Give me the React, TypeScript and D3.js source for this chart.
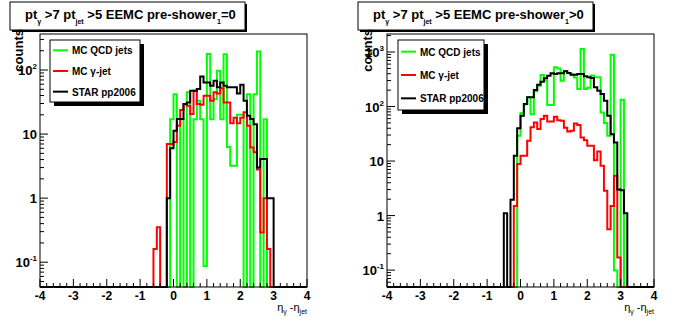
import React from 'react';
import * as d3 from 'd3';

// ---------- data ----------
const BIN_W = 0.1;
const X_MIN = -4;
const X_MAX = 4;
const xTicks = [-4, -3, -2, -1, 0, 1, 2, 3, 4];
const leftYTicks = [0.1, 1, 10, 100];
const rightYTicks = [0.1, 1, 10, 100, 1000];
const legendLabels = ['MC QCD jets', 'MC \u03b3-jet', 'STAR pp2006'];
const seriesColors = ['#00ff00', '#ff0000', '#000000'];

// left panel: pre-shower1 = 0
const leftQcdStart = -0.1;
const leftQcd = [17, 42, 0, 17, 0, 45, 0, 17, 33, 17, 0.087, 178, 17, 35, 97, 17, 176, 6.3, 3.2, 3.2, 20, 20, 0, 42, 0, 42, 195, 0, 17, 0];
const leftGammaStart = -0.6;
const leftGamma = [0.16, 0.35, 0, 0, 7, 7, 7.5, 13.5, 23.7, 29.4, 27.7, 20.5, 47.5, 29.4, 28.7, 39.7, 39.7, 33, 45, 43, 52, 31, 31, 14.7, 18, 14.7, 18, 22, 13.5, 6.2, 5.2, 2.8, 0.29, 1.0, 0.16];
const leftStarStart = -0.2;
const leftStar = [1.0, 6.0, 11.3, 17.2, 17.2, 29.4, 31, 47.5, 47.5, 50.5, 79, 64, 64, 57, 68, 54, 64, 57, 54, 54, 54, 43, 59, 33, 19.3, 17.2, 14.3, 3.0, 4.1, 4.1, 1.0, 1.0];

// right panel: pre-shower1 > 0
const rightQcdStart = -0.1;
const rightQcd = [29, 76, 110, 150, 72, 190, 240, 380, 300, 107, 107, 525, 500, 297, 450, 410, 390, 340, 210, 1135, 210, 220, 370, 343, 343, 78, 50, 29, 890, 0.098, 0, 133];
const rightGammaStart = -0.2;
const rightGamma = [1.5, 8.8, 12.5, 12.5, 23.6, 41.5, 51, 38.6, 59, 68, 53, 53, 65, 56, 55, 41, 35, 36, 49, 46, 27, 24, 19, 19, 10.4, 15, 8.2, 2.85, 0.56, 1.5, 5.4, 0.17];
const rightStarStart = -0.5;
const rightStar = [1.1, 0, 1.95, 12.5, 40, 68, 111, 148, 148, 201, 251, 285, 329, 368, 406, 395, 406, 406, 442, 412, 384, 384, 395, 395, 358, 343, 333, 225, 195, 170, 128, 68, 31, 22, 3.0, 2.9, 1.1];

// ---------- helpers ----------
const FONT = '"Liberation Sans", Arial, Helvetica, sans-serif';
const NBINS = Math.round((X_MAX - X_MIN) / BIN_W);

function fullBins(start: number, values: number[]) {
  const out: { lo: number; hi: number; v: number }[] = [];
  for (let i = 0; i < NBINS; i++) {
    const lo = X_MIN + i * BIN_W;
    const k = Math.round((lo - start) / BIN_W);
    const v = k >= 0 && k < values.length ? values[k] : 0;
    out.push({ lo, hi: lo + BIN_W, v });
  }
  return out;
}

function tickLabel(v: number) {
  const e = Math.round(Math.log10(v));
  if (e === 0) return { base: '1', sup: '' };
  if (e === 1) return { base: '10', sup: '' };
  return { base: '10', sup: String(e) };
}

type PanelCfg = {
  x0: number; x1: number; y0: number; y1: number;
  yDomain: [number, number];
  yTicks: number[];
  series: { start: number; values: number[] }[];
  titleBox: [number, number, number, number];
  titleEnd: string;
  legendBox: [number, number, number, number];
  countsX: number;
  id: string;
};

function Panel({ p }: { p: PanelCfg }) {
  const xs = d3.scaleLinear().domain([X_MIN, X_MAX]).range([p.x0, p.x1]);
  const ys = d3.scaleLog().domain(p.yDomain).range([p.y1, p.y0]);
  const yOf = (v: number) => (v > p.yDomain[0] ? ys(v) : p.y1);
  const line = d3.line<[number, number]>();

  const paths = p.series.map((s) => {
    const bins = fullBins(s.start, s.values);
    const pts: [number, number][] = [[xs(X_MIN), p.y1]];
    bins.forEach((b) => {
      pts.push([xs(b.lo), yOf(b.v)]);
      pts.push([xs(b.hi), yOf(b.v)]);
    });
    pts.push([xs(X_MAX), p.y1]);
    return line(pts) as string;
  });

  const xMinor: number[] = [];
  for (let v = X_MIN; v <= X_MAX + 1e-9; v += 0.2) {
    const r = Math.round(v * 10) / 10;
    if (Math.abs(r - Math.round(r)) > 1e-6) xMinor.push(r);
  }
  const yMinor: number[] = [];
  const dLo = Math.floor(Math.log10(p.yDomain[0]));
  const dHi = Math.ceil(Math.log10(p.yDomain[1]));
  for (let d = dLo; d <= dHi; d++) {
    for (let m = 2; m <= 9; m++) {
      const v = m * Math.pow(10, d);
      if (v >= p.yDomain[0] && v <= p.yDomain[1]) yMinor.push(v);
    }
  }

  const [tx, ty, tw, th] = p.titleBox;
  const [lx, ly, lw, lh] = p.legendBox;
  const rowH = lh / 3;

  return (
    <g>
      {/* title box */}
      <rect x={tx + 2} y={ty + 2} width={tw} height={th} fill="#000" />
      <rect x={tx} y={ty} width={tw} height={th} fill="#fff" stroke="#000" strokeWidth={1} />
      <text x={tx + 15} y={ty + 17} fontFamily={FONT} fontWeight="bold" fontSize={13} fill="#000">
        <tspan>pt</tspan>
        <tspan fontSize={7} dy={5}>{'\u03b3'}</tspan>
        <tspan dy={-5}>{' >7  pt'}</tspan>
        <tspan fontSize={7} dy={5}>jet</tspan>
        <tspan dy={-5}>{' >5  EEMC pre-shower'}</tspan>
        <tspan fontSize={7} dy={5}>1</tspan>
        <tspan dy={-5}>{p.titleEnd}</tspan>
      </text>

      <defs>
        <clipPath id={'clip-' + p.id}>
          <rect x={p.x0} y={p.y0} width={p.x1 - p.x0} height={p.y1 - p.y0 + 2} />
        </clipPath>
      </defs>

      <g clipPath={`url(#clip-${p.id})`}>
        {paths.map((d, i) => (
          <path key={i} d={d} fill="none" stroke={seriesColors[i]} strokeWidth={2} />
        ))}
      </g>

      {/* frame */}
      <rect x={p.x0} y={p.y0} width={p.x1 - p.x0} height={p.y1 - p.y0} fill="none" stroke="#000" strokeWidth={1} />

      {/* x ticks */}
      {xTicks.map((t) => (
        <g key={'xt' + t}>
          <line x1={xs(t)} x2={xs(t)} y1={p.y1} y2={p.y1 - 8} stroke="#000" />
          <text x={xs(t)} y={p.y1 + 13} textAnchor="middle" fontFamily={FONT} fontWeight="bold" fontSize={12}>
            {String(t)}
          </text>
        </g>
      ))}
      {xMinor.map((t) => (
        <line key={'xm' + t} x1={xs(t)} x2={xs(t)} y1={p.y1} y2={p.y1 - 4} stroke="#000" />
      ))}

      {/* y ticks */}
      {p.yTicks.map((t) => {
        const lab = tickLabel(t);
        return (
          <g key={'yt' + t}>
            <line x1={p.x0} x2={p.x0 + 8} y1={ys(t)} y2={ys(t)} stroke="#000" />
            <text x={p.x0 - 3} y={ys(t) + 5} textAnchor="end" fontFamily={FONT} fontWeight="bold" fontSize={13}>
              {lab.base}
              {lab.sup ? (
                <tspan fontSize={8} dy={-6}>{lab.sup}</tspan>
              ) : null}
            </text>
          </g>
        );
      })}
      {yMinor.map((t) => (
        <line key={'ym' + t} x1={p.x0} x2={p.x0 + 4} y1={ys(t)} y2={ys(t)} stroke="#000" />
      ))}

      {/* axis titles */}
      <text
        transform={`translate(${p.countsX},${p.y0 - 5}) rotate(-90)`}
        textAnchor="end"
        fontFamily={FONT}
        fontWeight="bold"
        fontSize={13}
      >
        counts
      </text>
      <text x={p.x1} y={p.y1 + 24} textAnchor="end" fontFamily={FONT} fontSize={11}>
        <tspan>{'\u03b7'}</tspan>
        <tspan fontSize={7} dy={3}>{'\u03b3'}</tspan>
        <tspan dy={-3}>{' -\u03b7'}</tspan>
        <tspan fontSize={7} dy={3}>jet</tspan>
      </text>

      {/* legend */}
      <rect x={lx + 4} y={ly + 4} width={lw} height={lh} fill="#000" />
      <rect x={lx} y={ly} width={lw} height={lh} fill="#fff" stroke="#000" strokeWidth={1} />
      {legendLabels.map((lab, i) => {
        const cy = ly + rowH * (i + 0.5);
        return (
          <g key={lab}>
            <line x1={lx + 3} x2={lx + 18} y1={cy} y2={cy} stroke={seriesColors[i]} strokeWidth={2} />
            <text x={lx + 22} y={cy + 4} fontFamily={FONT} fontWeight="bold" fontSize={10}>
              {lab}
            </text>
          </g>
        );
      })}
    </g>
  );
}

const panels: PanelCfg[] = [
  {
    id: 'L',
    x0: 40, x1: 307, y0: 34, y1: 287,
    yDomain: [0.041, 365],
    yTicks: leftYTicks,
    series: [
      { start: leftQcdStart, values: leftQcd },
      { start: leftGammaStart, values: leftGamma },
      { start: leftStarStart, values: leftStar },
    ],
    titleBox: [10, 2, 235, 28],
    titleEnd: '=0',
    legendBox: [50, 40, 90, 62],
    countsX: 23,
  },
  {
    id: 'R',
    x0: 387, x1: 654, y0: 34, y1: 287,
    yDomain: [0.049, 2140],
    yTicks: rightYTicks,
    series: [
      { start: rightQcdStart, values: rightQcd },
      { start: rightGammaStart, values: rightGamma },
      { start: rightStarStart, values: rightStar },
    ],
    titleBox: [358, 2, 235, 28],
    titleEnd: '>0',
    legendBox: [398, 40, 86, 70],
    countsX: 372,
  },
];

export default function App() {
  return (
    <svg
      width={696}
      height={322}
      style={{ position: 'absolute', left: 0, top: 0, background: '#fff' }}
    >
      <rect x={0} y={0} width={696} height={322} fill="#fff" />
      {panels.map((p) => (
        <Panel key={p.id} p={p} />
      ))}
    </svg>
  );
}
